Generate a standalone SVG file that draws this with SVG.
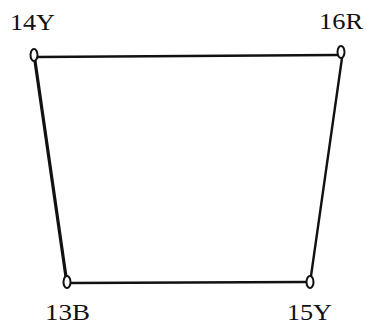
<svg xmlns="http://www.w3.org/2000/svg" width="367" height="327" viewBox="0 0 367 327">
<style>
.lbl{font-family:"Liberation Serif","DejaVu Serif",serif;font-size:23px;fill:#111}
.nd{fill:#fff;stroke:#111;stroke-width:2}
.ed{stroke:#111;stroke-width:2.4;fill:none;stroke-linecap:round}
</style>
<rect width="367" height="327" fill="#fff"/>
<g id="connectors">
<line class="ed" x1="37" y1="57" x2="337" y2="55"/>
<line class="ed" x1="35" y1="61" x2="66" y2="277" style="stroke-width:3.2"/>
<line class="ed" x1="342" y1="58" x2="311" y2="276"/>
<line class="ed" x1="71" y1="283" x2="306" y2="282"/>
</g>
<g id="n14Y"><ellipse class="nd" cx="34" cy="55" rx="3.5" ry="6"/><text class="lbl" x="10" y="30" textLength="45" lengthAdjust="spacingAndGlyphs">14Y</text></g>
<g id="n16R"><ellipse class="nd" cx="341" cy="52" rx="3.5" ry="6"/><text class="lbl" x="319" y="29" textLength="44" lengthAdjust="spacingAndGlyphs">16R</text></g>
<g id="n13B"><ellipse class="nd" cx="67" cy="282" rx="3.5" ry="6"/><text class="lbl" x="45" y="320" textLength="45" lengthAdjust="spacingAndGlyphs">13B</text></g>
<g id="n15Y"><ellipse class="nd" cx="310" cy="282" rx="3.5" ry="6"/><text class="lbl" x="287" y="320" textLength="45" lengthAdjust="spacingAndGlyphs">15Y</text></g>
</svg>
